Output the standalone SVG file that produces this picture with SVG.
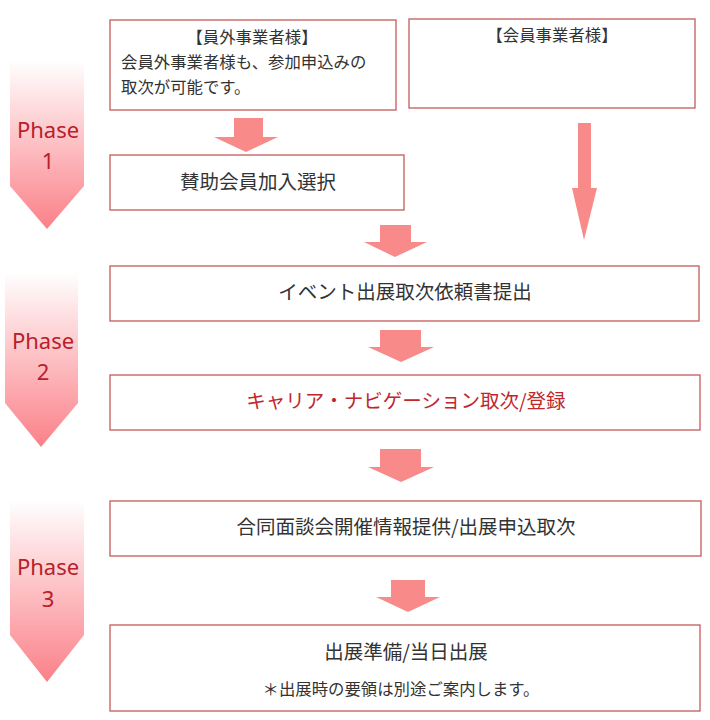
<svg xmlns="http://www.w3.org/2000/svg" width="710" height="720" viewBox="0 0 710 720">
<defs>
<linearGradient id="pg" x1="0" y1="0" x2="0" y2="1">
<stop offset="0" stop-color="#ffffff"/>
<stop offset="1" stop-color="#fb8088"/>
</linearGradient>
<style>
.box{fill:#fff;stroke:#c55a5a;stroke-width:1.3}
.t{font-family:"Noto Sans CJK JP","Noto Sans",sans-serif;font-size:16.4px;fill:#333}
.m{font-size:19.5px}
.red{fill:#c0272d}
.ph{font-family:"Noto Sans","Open Sans",sans-serif;font-size:22px;fill:#b8202a;text-anchor:middle}
.arr{fill:#f98a8a}
.c{text-anchor:middle}
</style>
</defs>
<rect width="710" height="720" fill="#fff"/>
<g id="phases">
<g id="phase1"><polygon points="10,60 84,60 84,186 47,229 10,186" fill="url(#pg)"/><text class="ph" x="48" y="138">Phase</text><text class="ph" x="48" y="169">1</text></g>
<g id="phase2"><polygon points="5,272 78,272 78,403 41,447 5,403" fill="url(#pg)"/><text class="ph" x="43" y="349">Phase</text><text class="ph" x="43" y="380">2</text></g>
<g id="phase3"><polygon points="10,500 84,500 84,635 47,682 10,635" fill="url(#pg)"/><text class="ph" x="48" y="575">Phase</text><text class="ph" x="48" y="607">3</text></g>
</g>
<g id="connectors">
<polygon class="arr" points="234,118 263,118 263,137 278,137 246,152 214,137 234,137"/>
<polygon class="arr" points="578,123 591,123 591,188 597,188 584,240 572,188 578,188"/>
<polygon class="arr" points="380,225 411,225 411,242 427,242 395,257 364,242 380,242"/>
<polygon class="arr" points="380,330 421,330 421,347 434,347 401,362 368,347 380,347"/>
<polygon class="arr" points="380,449 421,449 421,467 434,467 401,482 368,467 380,467"/>
<polygon class="arr" points="391,580 425,580 425,597 440,597 408,612 376,597 391,597"/>
</g>
<g id="n1"><rect class="box" x="110" y="20" width="286" height="90"/>
<text class="t c" x="252" y="43">【員外事業者様】</text>
<text class="t" x="121" y="68">会員外事業者様も、参加申込みの</text>
<text class="t" x="121" y="93">取次が可能です。</text></g>
<g id="n2"><rect class="box" x="409" y="19" width="286" height="89"/>
<text class="t c" x="552" y="41">【会員事業者様】</text></g>
<g id="n3"><rect class="box" x="110" y="155" width="294" height="55"/>
<text class="t m c" x="258" y="189">賛助会員加入選択</text></g>
<g id="n4"><rect class="box" x="110" y="266" width="589" height="55"/>
<text class="t m c" x="405" y="299">イベント出展取次依頼書提出</text></g>
<g id="n5"><rect class="box" x="110" y="375" width="590" height="55"/>
<text class="t m c red" x="406" y="408">キャリア・ナビゲーション取次/登録</text></g>
<g id="n6"><rect class="box" x="110" y="501" width="591" height="55"/>
<text class="t m c" x="406" y="534">合同面談会開催情報提供/出展申込取次</text></g>
<g id="n7"><rect class="box" x="110" y="625" width="590" height="86"/>
<text class="t m c" x="406" y="659">出展準備/当日出展</text>
<text class="t c" x="401" y="695">＊出展時の要領は別途ご案内します。</text></g>
</svg>
